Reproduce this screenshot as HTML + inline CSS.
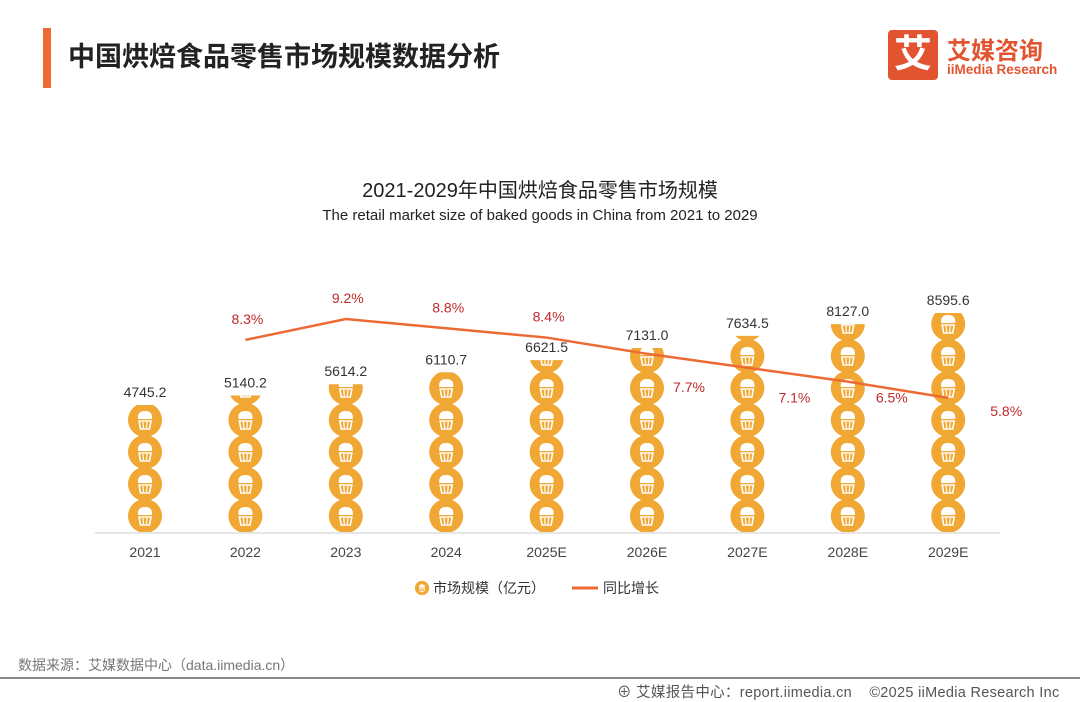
<!DOCTYPE html>
<html><head><meta charset="utf-8"><style>
body{margin:0;background:#fff;font-family:"Liberation Sans","Noto Sans CJK SC",sans-serif;}
#wrap{position:relative;width:1080px;height:702px;overflow:hidden;background:#fff}
.t{position:absolute;white-space:nowrap}
</style></head><body>
<div id="wrap">
<div style="position:absolute;left:43px;top:28px;width:8px;height:60px;background:#ee6a35"></div>
<div class="t" style="left:68px;top:35px;font-size:27px;font-weight:bold;color:#222">中国烘焙食品零售市场规模数据分析</div>
<div style="position:absolute;left:888px;top:30px;width:50px;height:50px;background:#e2532f;border-radius:4px;color:#fff;font-size:38px;font-weight:bold;text-align:center;line-height:50px">艾</div>
<div class="t" style="left:947px;top:31px;font-size:24px;font-weight:bold;color:#e2532f">艾媒咨询</div>
<div class="t" style="left:947px;top:62px;font-size:13.5px;font-weight:bold;color:#e2532f">iiMedia Research</div>
<div class="t" style="left:0;width:1080px;text-align:center;top:174px;font-size:20px;color:#222">2021-2029年中国烘焙食品零售市场规模</div>
<div class="t" style="left:0;width:1080px;text-align:center;top:207px;font-size:15px;color:#222">The retail market size of baked goods in China from 2021 to 2029</div>
<svg id="chart" width="1080" height="702" style="position:absolute;left:0;top:0">
<defs>
<g id="cup">
<circle r="17" fill="#f0a733"/>
<path d="M-7,-1 Q-8,-9 0,-9 Q8,-9 7,-1 Z" fill="#fff"/>
<path d="M-6,1 L6,1 L4.5,9 L-4.5,9 Z" fill="none" stroke="#fff" stroke-width="1.6"/>
<line x1="-2" y1="2" x2="-1.5" y2="8" stroke="#fff" stroke-width="1.2"/>
<line x1="2" y1="2" x2="1.5" y2="8" stroke="#fff" stroke-width="1.2"/>
</g>
</defs>
<line x1="95" y1="533" x2="1000" y2="533" stroke="#ddd" stroke-width="1.5"/>
<g id="bars"></g><g id="line"></g>
<g>
<use href="#cup" transform="translate(422,588) scale(0.42)"/>
<text x="433" y="593" font-size="14" fill="#333">市场规模（亿元）</text>
<line x1="572" y1="588" x2="598" y2="588" stroke="#ee6a35" stroke-width="3"/>
<text x="603" y="593" font-size="14" fill="#333">同比增长</text>
</g>
</svg>
<div class="t" style="left:18px;top:655px;font-size:14px;color:#777">数据来源：艾媒数据中心（data.iimedia.cn）</div>
<div style="position:absolute;left:0;top:677px;width:1080px;height:2px;background:#888"></div>
<div class="t" style="left:617px;top:681px;font-size:14.5px;color:#555;letter-spacing:0.3px">⊕ 艾媒报告中心：report.iimedia.cn &nbsp;&nbsp; ©2025 iiMedia Research Inc</div>
</div>
<script>
const categories=["2021","2022","2023","2024","2025E","2026E","2027E","2028E","2029E"];
const marketSize=[4745.2,5140.2,5614.2,6110.7,6621.5,7131.0,7634.5,8127.0,8595.6];
const growth=[null,8.3,9.2,8.8,8.4,7.7,7.1,6.5,5.8];
const growthLabels=["","8.3%","9.2%","8.8%","8.4%","7.7%","7.1%","6.5%","5.8%"];
const NS="http://www.w3.org/2000/svg";
const base=532;
const xS=i=>145+i*100.4;
const hS=v=>(v+570)*0.0239;
const yG=g=>319+(9.2-g)*23.2;
const lblDx=[0,0,0,0,0,40,45,42,56];
const lblDy=[0,-16,-16,-16,-16,38,35,21,18];
const bars=document.getElementById('bars');
const svg=document.getElementById('chart');
const defs=svg.querySelector('defs');
categories.forEach((c,i)=>{
  const x=xS(i),h=hS(marketSize[i]),top=base-h;
  const cp=document.createElementNS(NS,'clipPath');cp.id='cp'+i;
  const r=document.createElementNS(NS,'rect');
  r.setAttribute('x',x-20);r.setAttribute('y',top);r.setAttribute('width',40);r.setAttribute('height',h);
  cp.appendChild(r);defs.appendChild(cp);
  const g=document.createElementNS(NS,'g');
  g.setAttribute('clip-path','url(#cp'+i+')');
  
  
  const n=Math.ceil(h/32)+1;
  for(let k=0;k<n;k++){
    const u=document.createElementNS(NS,'use');
    u.setAttribute('href','#cup');
    u.setAttribute('transform','translate('+x+','+(base-16-k*32)+')');
    g.appendChild(u);
  }
  bars.appendChild(g);
  const t=document.createElementNS(NS,'text');
  t.setAttribute('x',x);t.setAttribute('y',top-8);t.setAttribute('text-anchor','middle');
  t.setAttribute('font-size','14');t.setAttribute('fill','#333');
  
  
  t.textContent=marketSize[i].toFixed(1);bars.appendChild(t);
  const xl=document.createElementNS(NS,'text');
  xl.setAttribute('x',x);xl.setAttribute('y',557);xl.setAttribute('text-anchor','middle');
  xl.setAttribute('font-size','14');xl.setAttribute('fill','#444');
  
  
  xl.textContent=c;bars.appendChild(xl);
});
const lg=document.getElementById('line');
let d='';
growth.forEach((g,i)=>{if(g==null)return;d+=(d?'L':'M')+xS(i)+','+yG(g);});
const p=document.createElementNS(NS,'path');
p.setAttribute('d',d);p.setAttribute('fill','none');p.setAttribute('stroke','#ee6a35');p.setAttribute('stroke-width','2.5');


lg.appendChild(p);
growth.forEach((g,i)=>{
  if(g==null)return;
  const t=document.createElementNS(NS,'text');
  t.setAttribute('x',xS(i)+2+lblDx[i]);
  t.setAttribute('y',yG(g)+lblDy[i]);
  t.setAttribute('text-anchor','middle');t.setAttribute('font-size','14');t.setAttribute('fill','#c0282a');
  
  
  t.textContent=growthLabels[i];lg.appendChild(t);
});
</script>
</body></html>
